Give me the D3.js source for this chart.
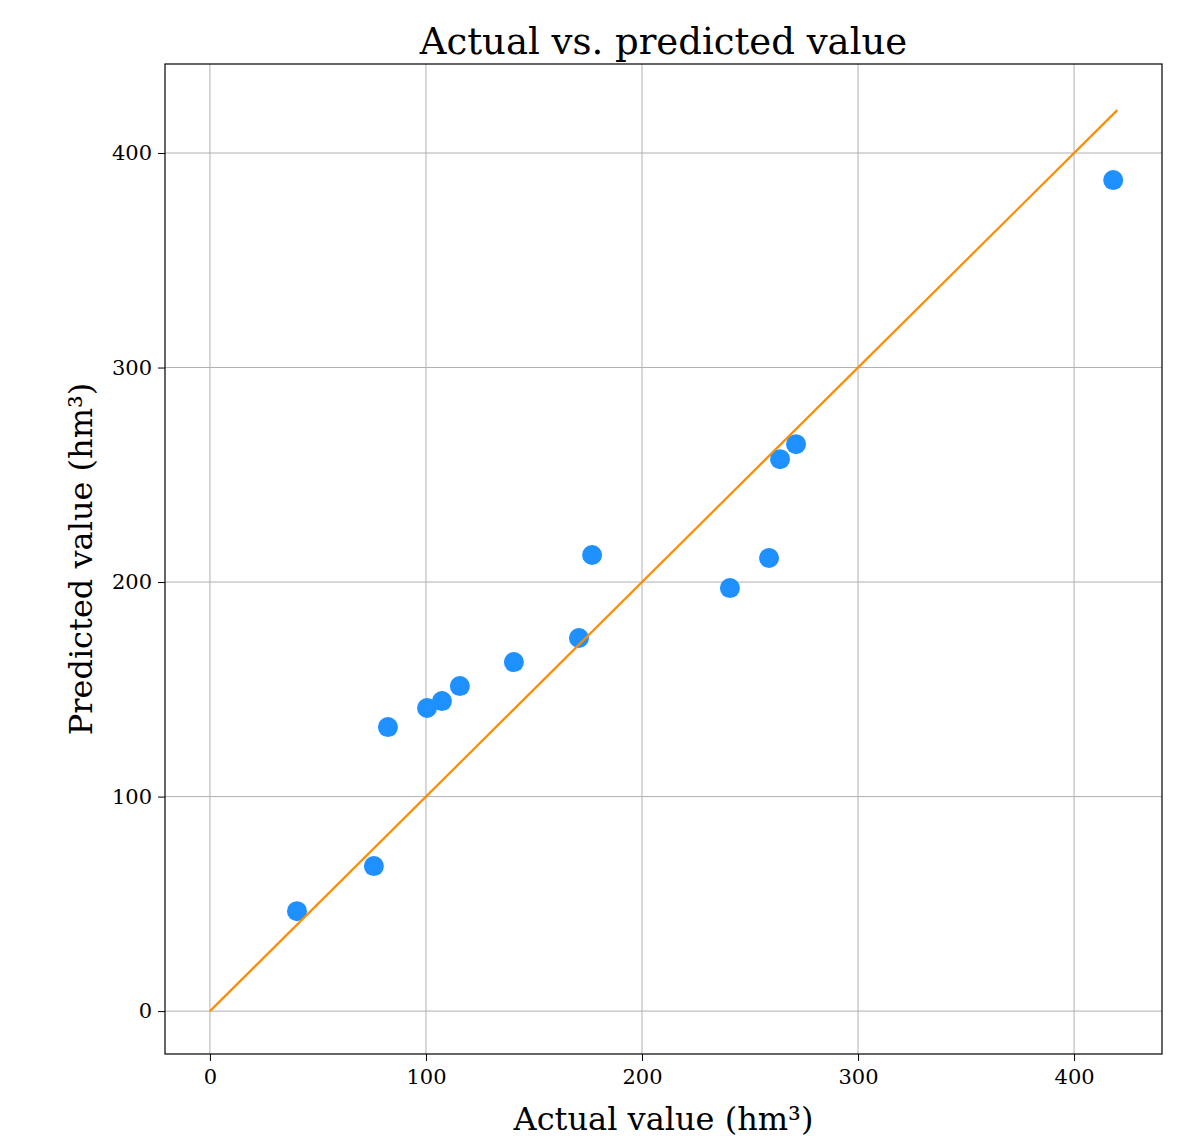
<!DOCTYPE html>
<html>
<head>
<meta charset="utf-8">
<script src="https://cdn.jsdelivr.net/npm/d3@7"></script>
<style>
  body { margin: 0; background: #fff; }
  text { font-family: "DejaVu Serif", "Liberation Serif", serif; }
</style>
</head>
<body>
<div id="chart"></div>
<script>
// data
var actual    = [40.3, 75.9, 82.4, 100.5, 107.4, 115.7, 140.7, 170.8, 176.9, 240.7, 258.8, 263.9, 271.3, 418.1]
var predicted = [46.6, 67.6, 132.4, 141.3, 144.5, 151.5, 162.7, 173.9, 212.6, 197.2, 211.2, 257.3, 264.3, 387.4]
var idealLine = [0, 420]
var xTicks = [0, 100, 200, 300, 400]
var yTicks = [0, 100, 200, 300, 400]

var W = 1197, H = 1140
var margin = { top: 64, right: 35, bottom: 86, left: 165 },
    width = W - margin.left - margin.right,
    height = H - margin.top - margin.bottom

var svg = d3.select("#chart")
    .append("svg")
    .attr("width", W)
    .attr("height", H)

var g = svg.append("g")
    .attr("transform", "translate(" + margin.left + "," + margin.top + ")")

var x = d3.scaleLinear().domain([-20.8, 440.7]).range([0, width])
var y = d3.scaleLinear().domain([-20, 441.5]).range([height, 0])

// grid
g.selectAll(".gx").data(xTicks).enter().append("line")
    .attr("x1", d => x(d)).attr("x2", d => x(d))
    .attr("y1", 0).attr("y2", height)
    .attr("stroke", "#b0b0b0").attr("stroke-width", 1)
g.selectAll(".gy").data(yTicks).enter().append("line")
    .attr("x1", 0).attr("x2", width)
    .attr("y1", d => y(d)).attr("y2", d => y(d))
    .attr("stroke", "#b0b0b0").attr("stroke-width", 1)

// points
g.selectAll("circle").data(actual).enter().append("circle")
    .attr("cx", d => x(d))
    .attr("cy", (d, i) => y(predicted[i]))
    .attr("r", 10)
    .style("fill", "#1e90ff")

// y = x line
g.append("line")
    .attr("x1", x(idealLine[0])).attr("y1", y(idealLine[0]))
    .attr("x2", x(idealLine[1])).attr("y2", y(idealLine[1]))
    .attr("stroke", "#ff8c00").attr("stroke-width", 2.2)

// axes
var xAxis = g.append("g")
    .attr("transform", "translate(0," + height + ")")
    .call(d3.axisBottom(x).tickValues(xTicks).tickSize(7).tickPadding(8).tickFormat(d3.format("d")))
var yAxis = g.append("g")
    .call(d3.axisLeft(y).tickValues(yTicks).tickSize(7).tickPadding(6).tickFormat(d3.format("d")))
;[xAxis, yAxis].forEach(function(a) {
    a.select(".domain").remove()
    a.selectAll("line").attr("stroke", "#000").attr("stroke-width", 1)
    a.selectAll("text").attr("font-size", 21).attr("fill", "#000")
        .style("font-family", "'DejaVu Serif', serif")
})

// frame
g.append("rect")
    .attr("width", width).attr("height", height)
    .attr("fill", "none").attr("stroke", "#000").attr("stroke-width", 1.2)

// labels
svg.append("text")
    .attr("x", margin.left + width / 2).attr("y", 54)
    .attr("text-anchor", "middle").attr("font-size", 37)
    .text("Actual vs. predicted value")
svg.append("text")
    .attr("x", margin.left + width / 2).attr("y", 1130)
    .attr("text-anchor", "middle").attr("font-size", 32)
    .text("Actual value (hm³)")
svg.append("text")
    .attr("transform", "translate(92," + (margin.top + height / 2) + ") rotate(-90)")
    .attr("text-anchor", "middle").attr("font-size", 32)
    .text("Predicted value (hm³)")
</script>
</body>
</html>
